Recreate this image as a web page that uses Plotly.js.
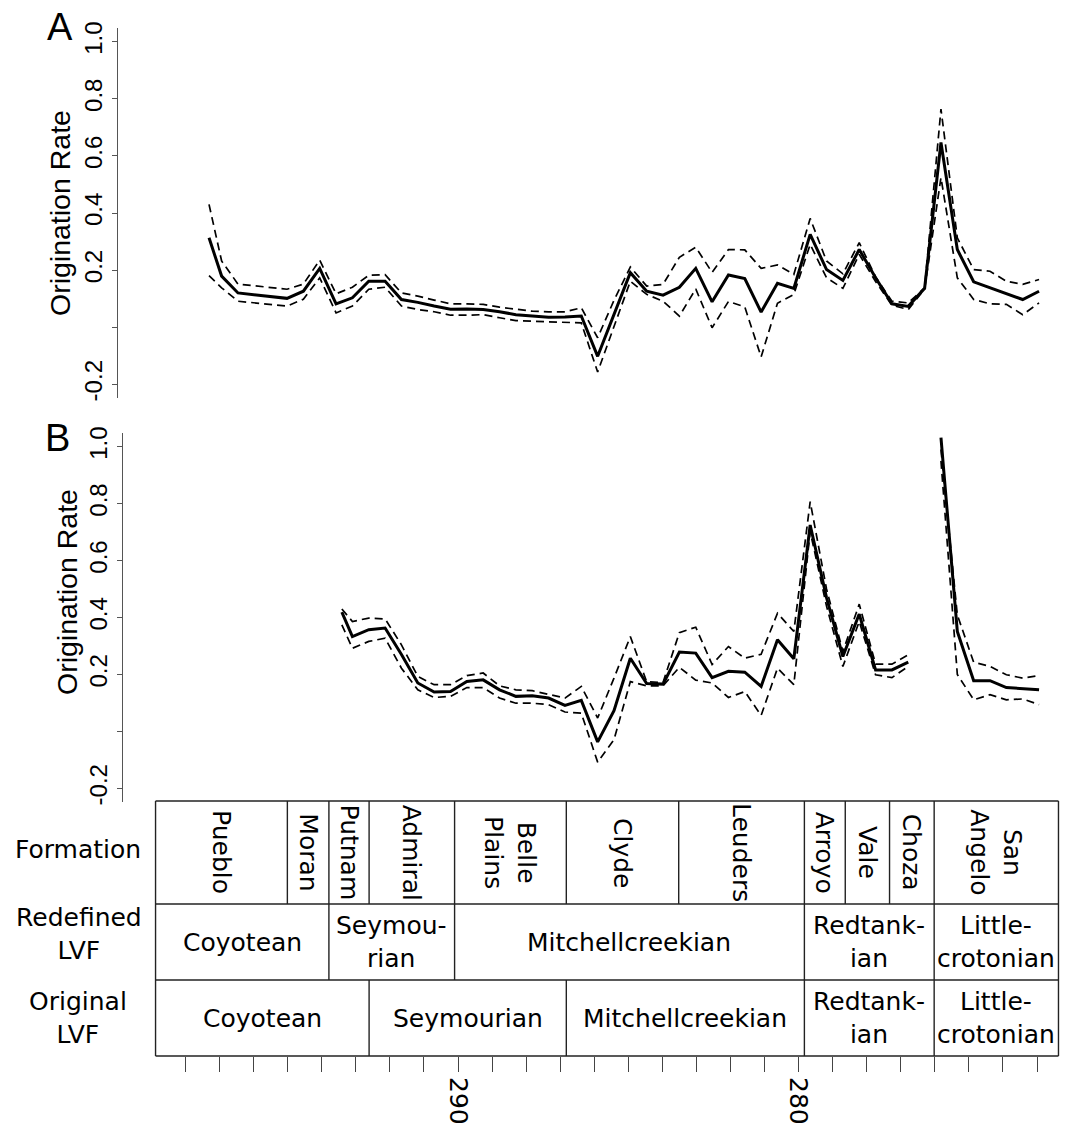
<!DOCTYPE html>
<html>
<head>
<meta charset="utf-8">
<script src="https://cdn.plot.ly/plotly-3.0.1.min.js"></script>
<style>html,body{margin:0;padding:0;background:#fff;}#chart{width:1070px;height:1124px;}</style>
</head>
<body>
<div id="chart"></div>
<script>
// ---------------- DATA ----------------
// Panel A: ages (Ma) and origination rate with confidence bounds
const agesA = [297.31, 296.94, 296.46, 295.98, 295.50, 295.02, 294.54, 294.06, 293.58, 293.10,
  292.62, 292.14, 291.66, 291.18, 290.70, 290.22, 289.74, 289.26, 288.78, 288.30,
  287.82, 287.34, 286.86, 286.38, 285.90, 285.42, 284.94, 284.46, 283.98, 283.50,
  283.02, 282.54, 282.06, 281.58, 281.10, 280.62, 280.14, 279.66, 279.18, 278.70,
  278.22, 277.74, 277.26, 276.78, 276.30, 275.82, 275.34, 274.86, 274.38, 273.90,
  273.42, 272.94];
const rateA = [0.313, 0.179, 0.120, 0.114, 0.108, 0.101, 0.126, 0.206, 0.082, 0.103,
  0.161, 0.161, 0.097, 0.087, 0.074, 0.063, 0.064, 0.062, 0.054, 0.044,
  0.039, 0.035, 0.036, 0.039, -0.102, 0.046, 0.191, 0.126, 0.112, 0.140,
  0.206, 0.089, 0.183, 0.170, 0.053, 0.154, 0.136, 0.325, 0.202, 0.164,
  0.272, 0.173, 0.082, 0.073, 0.136, 0.647, 0.272, 0.159, 0.138, 0.117,
  0.097, 0.126];
const upperA = [0.430, 0.232, 0.151, 0.145, 0.139, 0.133, 0.151, 0.235, 0.117, 0.140,
  0.182, 0.184, 0.120, 0.109, 0.095, 0.082, 0.082, 0.080, 0.070, 0.062,
  0.056, 0.054, 0.054, 0.068, -0.037, 0.094, 0.211, 0.144, 0.150, 0.245,
  0.280, 0.192, 0.272, 0.271, 0.206, 0.218, 0.185, 0.381, 0.232, 0.187,
  0.296, 0.176, 0.091, 0.085, 0.138, 0.764, 0.313, 0.202, 0.196, 0.161,
  0.150, 0.167];
const lowerA = [0.181, 0.138, 0.091, 0.085, 0.079, 0.074, 0.098, 0.173, 0.050, 0.074,
  0.133, 0.140, 0.074, 0.062, 0.054, 0.042, 0.042, 0.044, 0.033, 0.023,
  0.021, 0.019, 0.015, 0.015, -0.157, 0.004, 0.161, 0.115, 0.091, 0.039,
  0.134, -0.002, 0.090, 0.071, -0.104, 0.084, 0.115, 0.290, 0.173, 0.136,
  0.255, 0.160, 0.077, 0.062, 0.134, 0.524, 0.173, 0.097, 0.082, 0.080,
  0.044, 0.085];

// Panel B (null = no estimate)
const agesB = [293.41, 293.10, 292.62, 292.14, 291.66, 291.18, 290.70, 290.22, 289.74, 289.26,
  288.78, 288.30, 287.82, 287.34, 286.86, 286.38, 285.90, 285.42, 284.94, 284.46,
  283.98, 283.50, 283.02, 282.54, 282.06, 281.58, 281.10, 280.62, 280.14, 279.66,
  279.18, 278.70, 278.22, 277.74, 277.26, 276.78, 276.30, 275.82, 275.34, 274.86,
  274.38, 273.90, 273.42, 272.94];
const rateB = [0.419, 0.333, 0.357, 0.363, 0.270, 0.170, 0.138, 0.140, 0.175, 0.181,
  0.146, 0.123, 0.125, 0.117, 0.091, 0.109, -0.037, 0.073, 0.257, 0.168,
  0.166, 0.279, 0.275, 0.189, 0.211, 0.208, 0.158, 0.322, 0.255, 0.725,
  0.470, 0.263, 0.412, 0.216, 0.216, 0.243, null, 1.032, 0.351, 0.178,
  0.178, 0.154, 0.150, 0.146];
const upperB = [0.430, 0.386, 0.398, 0.395, 0.304, 0.193, 0.164, 0.164, 0.196, 0.205,
  0.160, 0.146, 0.143, 0.131, 0.117, 0.158, 0.047, 0.187, 0.333, 0.174,
  0.172, 0.347, 0.366, 0.235, 0.298, 0.257, 0.271, 0.415, 0.351, 0.807,
  0.500, 0.280, 0.447, 0.236, 0.236, 0.269, null, 0.990, 0.409, 0.243,
  0.228, 0.199, 0.187, 0.196];
const lowerB = [0.374, 0.292, 0.316, 0.327, 0.222, 0.146, 0.119, 0.123, 0.154, 0.154,
  0.117, 0.099, 0.099, 0.094, 0.068, 0.064, -0.108, -0.029, 0.175, 0.160,
  0.160, 0.225, 0.180, 0.170, 0.119, 0.140, 0.056, 0.222, 0.164, 0.702,
  0.440, 0.228, 0.386, 0.199, 0.189, 0.228, null, 0.950, 0.200, 0.111,
  0.129, 0.111, 0.114, 0.094];

// Stratigraphic table
const formationNames = ['Pueblo', 'Moran', 'Putnam', 'Admiral', 'Belle<br>Plains', 'Clyde',
  'Leuders', 'Arroyo', 'Vale', 'Choza', 'San<br>Angelo'];
const formationBounds = [298.88, 295.01, 293.79, 292.61, 290.10, 286.82, 283.52, 279.83,
  278.63, 277.33, 276.02, 272.37];
const redefinedNames = ['Coyotean', 'Seymou-<br>rian', 'Mitchellcreekian', 'Redtank-<br>ian',
  'Little-<br>crotonian'];
const redefinedBounds = [298.88, 293.79, 290.10, 279.83, 276.02, 272.37];
const originalNames = ['Coyotean', 'Seymourian', 'Mitchellcreekian', 'Redtank-<br>ian',
  'Little-<br>crotonian'];
const originalBounds = [298.88, 292.61, 286.82, 279.83, 276.02, 272.37];
const rowLabels = ['Formation', 'Redefined<br>LVF', 'Original<br>LVF'];
const tickAges = [298, 297, 296, 295, 294, 293, 292, 291, 290, 289, 288, 287, 286, 285, 284,
  283, 282, 281, 280, 279, 278, 277, 276, 275, 274, 273];
const labelledAges = [290, 280];
const yTicks = [-0.2, 0.0, 0.2, 0.4, 0.6, 0.8, 1.0];
const yTickText = ['-0.2', '', '0.2', '0.4', '0.6', '0.8', '1.0'];

// ---------------- LAYOUT HELPERS ----------------
const W = 1070, H = 1124;
const PY = v => 1 - v / H;          // pixel row -> paper y
const PX = v => v / W;              // pixel col -> paper x
const AGE = px => 290 + (458 - px) / 34.06; // pixel col -> age on shared scale
const SANS = 'Liberation Sans, Arial, sans-serif';
const DJV = 'DejaVu Sans, sans-serif';

const solid = {color: '#000', width: 3};
const dashed = {color: '#000', width: 1.7, dash: '8px,5px'};

const traces = [
  {x: agesA, y: upperA, xaxis: 'x', yaxis: 'y', mode: 'lines', line: dashed, hoverinfo: 'skip'},
  {x: agesA, y: lowerA, xaxis: 'x', yaxis: 'y', mode: 'lines', line: dashed, hoverinfo: 'skip'},
  {x: agesA, y: rateA, xaxis: 'x', yaxis: 'y', mode: 'lines', line: solid},
  {x: agesB, y: upperB, xaxis: 'x2', yaxis: 'y2', mode: 'lines', line: dashed, connectgaps: false, hoverinfo: 'skip'},
  {x: agesB, y: lowerB, xaxis: 'x2', yaxis: 'y2', mode: 'lines', line: dashed, connectgaps: false, hoverinfo: 'skip'},
  {x: agesB, y: rateB, xaxis: 'x2', yaxis: 'y2', mode: 'lines', line: solid, connectgaps: false}
];

const yAxisBase = {
  range: [-0.248, 1.048], tickvals: yTicks, ticktext: yTickText,
  ticks: 'outside', ticklen: 5, tickwidth: 1, tickcolor: '#555',
  showline: true, linecolor: '#555', linewidth: 1,
  showgrid: false, zeroline: false, tickangle: -90,
  tickfont: {family: SANS, size: 24, color: '#000'}
};

// table geometry (pixel rows)
const rowTop = [801, 904, 980];
const rowBot = [904, 980, 1056];
const shapes = [];
const lineStyle = {color: '#222', width: 1.4};
[801, 904, 980, 1056].forEach(yp => {
  shapes.push({type: 'line', xref: 'x3', yref: 'paper', x0: formationBounds[0],
    x1: formationBounds[formationBounds.length - 1], y0: PY(yp), y1: PY(yp), line: lineStyle});
});
[formationBounds, redefinedBounds, originalBounds].forEach((b, r) => {
  b.forEach(a => {
    shapes.push({type: 'line', xref: 'x3', yref: 'paper', x0: a, x1: a,
      y0: PY(rowTop[r]), y1: PY(rowBot[r]), line: lineStyle});
  });
});

const annotations = [];
function cellText(names, bounds, r, angle) {
  names.forEach((n, i) => {
    annotations.push({xref: 'x3', yref: 'paper', x: (bounds[i] + bounds[i + 1]) / 2,
      y: PY((rowTop[r] + rowBot[r]) / 2), text: n, showarrow: false, textangle: angle,
      xanchor: 'center', yanchor: 'middle', font: {family: DJV, size: 25, color: '#000'}});
  });
}
cellText(formationNames, formationBounds, 0, 90);
cellText(redefinedNames, redefinedBounds, 1, 0);
cellText(originalNames, originalBounds, 2, 0);
const rowLabelPos = [[77.5, 849], [79, 934], [77.5, 1018]];
rowLabels.forEach((t, i) => annotations.push({xref: 'paper', yref: 'paper',
  x: PX(rowLabelPos[i][0]), y: PY(rowLabelPos[i][1]), text: t, showarrow: false,
  xanchor: 'center', yanchor: 'middle', font: {family: DJV, size: 25, color: '#000'}}));
// panel letters and y titles
[['A', 60, 27], ['B', 57.5, 438]].forEach(p => annotations.push({xref: 'paper', yref: 'paper',
  x: PX(p[1]), y: PY(p[2]), text: p[0], showarrow: false, xanchor: 'center', yanchor: 'middle',
  font: {family: SANS, size: 38, color: '#000'}}));
[[60, 213], [67, 592]].forEach(p => annotations.push({xref: 'paper', yref: 'paper',
  x: PX(p[0]), y: PY(p[1]), text: 'Origination Rate', showarrow: false, textangle: -90,
  xanchor: 'center', yanchor: 'middle', font: {family: SANS, size: 28.5, color: '#000'}}));

const layout = {
  width: W, height: H, margin: {l: 0, r: 0, t: 0, b: 0},
  paper_bgcolor: '#fff', plot_bgcolor: 'rgba(0,0,0,0)', showlegend: false,
  xaxis: {domain: [PX(118), PX(1060)], range: [AGE(118), AGE(1060)], visible: false, anchor: 'y'},
  yaxis: Object.assign({}, yAxisBase, {domain: [PY(398), PY(28)], anchor: 'x'}),
  xaxis2: {domain: [PX(123), PX(1060)], range: [AGE(123), AGE(1060)], visible: false, anchor: 'y2'},
  yaxis2: Object.assign({}, yAxisBase, {domain: [PY(802), PY(433)], anchor: 'x2'}),
  xaxis3: {domain: [PX(118), PX(1060)], range: [AGE(118), AGE(1060)], anchor: 'y3',
    tickvals: tickAges, ticktext: tickAges.map(a => labelledAges.includes(a) ? String(a) : ''),
    ticks: 'outside', ticklen: 15, tickwidth: 1, tickcolor: '#444', showline: false,
    showgrid: false, zeroline: false, tickangle: 90,
    tickfont: {family: DJV, size: 25, color: '#000'}},
  yaxis3: {domain: [PY(1056), PY(801)], range: [0, 1], visible: false, anchor: 'x3'},
  shapes: shapes, annotations: annotations
};

Plotly.newPlot('chart', traces, layout, {staticPlot: true, displayModeBar: false});
</script>
</body>
</html>
